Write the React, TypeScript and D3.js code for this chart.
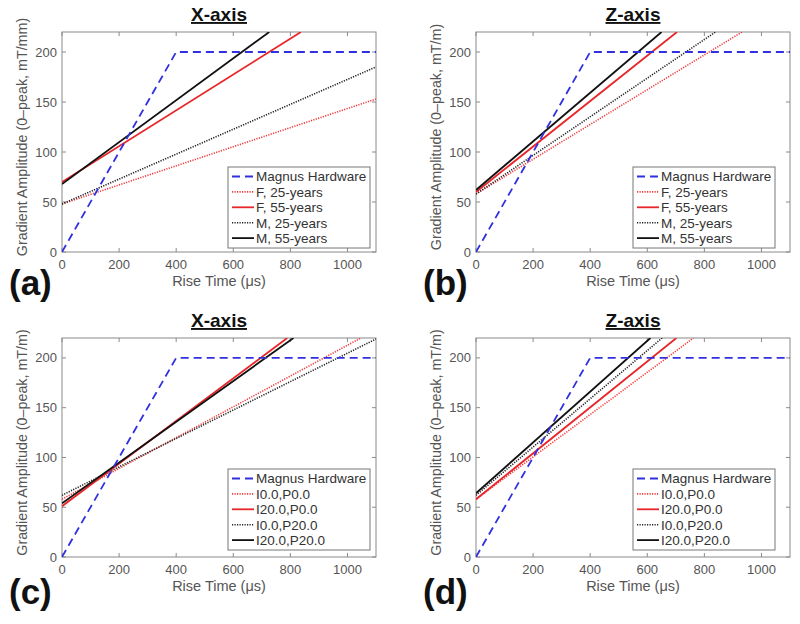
import { useEffect, useRef } from 'react';
import * as d3 from 'd3';

// rise time (us) vs gradient amplitude, each line given by its end points
const xTicks = [0, 200, 400, 600, 800, 1000];
const yTicks = [0, 50, 100, 150, 200];
const magnus = [[0, 0], [400, 200], [1100, 200]];

const ageLabels = ['Magnus Hardware', 'F, 25-years', 'F, 55-years', 'M, 25-years', 'M, 55-years'];
const ipLabels = ['Magnus Hardware', 'I0.0,P0.0', 'I20.0,P0.0', 'I0.0,P20.0', 'I20.0,P20.0'];

// (a) X-axis, by sex and age
const aF25 = [[0, 48], [1100, 153]];
const aF55 = [[0, 70], [837, 220]];
const aM25 = [[0, 48], [1100, 185]];
const aM55 = [[0, 68], [726, 220]];

// (b) Z-axis, by sex and age
const bF25 = [[0, 58], [932, 220]];
const bF55 = [[0, 60], [704, 220]];
const bM25 = [[0, 58], [839, 220]];
const bM55 = [[0, 62], [650, 220]];

// (c) X-axis, by I/P
const cI0P0 = [[0, 58], [1047, 220]];
const cI20P0 = [[0, 51], [789, 220]];
const cI0P20 = [[0, 62], [1100, 219]];
const cI20P20 = [[0, 54], [811, 220]];

// (d) Z-axis, by I/P
const dI0P0 = [[0, 58], [762, 220]];
const dI20P0 = [[0, 58], [702, 220]];
const dI0P20 = [[0, 62], [652, 220]];
const dI20P20 = [[0, 64], [611, 220]];

const styles = [
    { color: '#3030e0', dash: '8,5', w: 1.8 },
    { color: '#f03a3a', dash: '1.2,1.3', w: 1.6 },
    { color: '#e8262a', dash: null, w: 1.8 },
    { color: '#222', dash: '1.2,1.3', w: 1.6 },
    { color: '#111', dash: null, w: 1.8 },
];

const panels = [
    { id: 'a', title: 'X-axis', unit: 'mT/mm', left: 62, top: 32, bottom: 252, letterY: 295, labels: ageLabels, series: [magnus, aF25, aF55, aM25, aM55], legX: 228, legY: 167 },
    { id: 'b', title: 'Z-axis', unit: 'mT/m', left: 476, top: 32, bottom: 252, letterY: 295, labels: ageLabels, series: [magnus, bF25, bF55, bM25, bM55], legX: 633, legY: 167 },
    { id: 'c', title: 'X-axis', unit: 'mT/m', left: 62, top: 338, bottom: 557, letterY: 604, labels: ipLabels, series: [magnus, cI0P0, cI20P0, cI0P20, cI20P20], legX: 228, legY: 469 },
    { id: 'd', title: 'Z-axis', unit: 'mT/m', left: 476, top: 338, bottom: 557, letterY: 604, labels: ipLabels, series: [magnus, dI0P0, dI20P0, dI0P20, dI20P20], legX: 633, legY: 469 },
];

const font = '"Liberation Sans", Arial, sans-serif';

const App = () => {
    const svgRef = useRef(null);
    const width = 800;
    const height = 624;

    useEffect(() => {
        const svg = d3.select(svgRef.current);
        svg.selectAll('*').remove();

        panels.forEach(p => {
            const right = p.left + 314;
            const x = d3.scaleLinear().domain([0, 1100]).range([p.left, right]);
            const y = d3.scaleLinear().domain([0, 220]).range([p.bottom, p.top]);
            const g = svg.append('g').attr('font-family', font);

            g.append('clipPath').attr('id', 'clip-' + p.id)
                .append('rect')
                .attr('x', p.left).attr('y', p.top)
                .attr('width', right - p.left).attr('height', p.bottom - p.top);

            // box
            g.append('rect')
                .attr('x', p.left).attr('y', p.top)
                .attr('width', right - p.left).attr('height', p.bottom - p.top)
                .attr('fill', 'white').attr('stroke', '#8a8a8a').attr('stroke-width', 1);

            // ticks inward, mirrored
            xTicks.forEach(t => {
                g.append('line').attr('x1', x(t)).attr('x2', x(t)).attr('y1', p.bottom).attr('y2', p.bottom - 4).attr('stroke', '#8a8a8a');
                g.append('line').attr('x1', x(t)).attr('x2', x(t)).attr('y1', p.top).attr('y2', p.top + 4).attr('stroke', '#8a8a8a');
                g.append('text').attr('x', x(t)).attr('y', p.bottom + 17)
                    .attr('text-anchor', 'middle').attr('font-size', 13).attr('fill', '#555').text(t);
            });
            yTicks.forEach(t => {
                g.append('line').attr('x1', p.left).attr('x2', p.left + 4).attr('y1', y(t)).attr('y2', y(t)).attr('stroke', '#8a8a8a');
                g.append('line').attr('x1', right).attr('x2', right - 4).attr('y1', y(t)).attr('y2', y(t)).attr('stroke', '#8a8a8a');
                g.append('text').attr('x', p.left - 5).attr('y', y(t) + 4.5)
                    .attr('text-anchor', 'end').attr('font-size', 13).attr('fill', '#555').text(t);
            });

            const line = d3.line().x(d => x(d[0])).y(d => y(d[1]));
            const lines = g.append('g').attr('clip-path', 'url(#clip-' + p.id + ')');
            // draw order: dotted first, then solids, hardware last
            [1, 3, 2, 4, 0].forEach(i => {
                const s = styles[i];
                lines.append('path')
                    .attr('d', line(p.series[i]))
                    .attr('fill', 'none')
                    .attr('stroke', s.color)
                    .attr('stroke-width', s.w)
                    .attr('stroke-dasharray', s.dash);
            });

            // legend
            const leg = g.append('g');
            leg.append('rect')
                .attr('x', p.legX).attr('y', p.legY)
                .attr('width', 142).attr('height', 81)
                .attr('fill', 'white').attr('stroke', '#777').attr('stroke-width', 1);
            p.labels.forEach((lab, i) => {
                const s = styles[i];
                const ly = p.legY + 9.5 + i * 15.4;
                leg.append('line')
                    .attr('x1', p.legX + 4).attr('x2', p.legX + 26)
                    .attr('y1', ly).attr('y2', ly)
                    .attr('stroke', s.color).attr('stroke-width', s.w)
                    .attr('stroke-dasharray', s.dash);
                leg.append('text').attr('x', p.legX + 28).attr('y', ly + 4.8)
                    .attr('font-size', 13.5).attr('fill', '#333').text(lab);
            });

            // title
            const cx = (p.left + right) / 2;
            g.append('text').attr('x', cx).attr('y', p.top - 11)
                .attr('text-anchor', 'middle').attr('font-size', 19).attr('font-weight', 'bold')
                .attr('fill', '#111').attr('text-decoration', 'underline').text(p.title);

            // axis labels
            g.append('text').attr('x', cx).attr('y', p.bottom + 34)
                .attr('text-anchor', 'middle').attr('font-size', 14.5).attr('fill', '#555')
                .text('Rise Time (\u03bcs)');
            g.append('text')
                .attr('transform', 'translate(' + (p.left - 35) + ',' + ((p.top + p.bottom) / 2 - 5) + ') rotate(-90)')
                .attr('text-anchor', 'middle').attr('font-size', 14.3).attr('fill', '#555')
                .text('Gradient Amplitude (0\u2013peak, ' + p.unit + ')');

            // panel letter
            g.append('text').attr('x', p.left - 53).attr('y', p.letterY)
                .attr('font-size', 35).attr('font-weight', 'bold').attr('fill', '#111')
                .text('(' + p.id + ')');
        });
    }, []);

    return (
        <div>
            <svg ref={svgRef} width={width} height={height} style={{ position: 'absolute', left: 0, top: 0 }}></svg>
        </div>
    );
};

export default App;
